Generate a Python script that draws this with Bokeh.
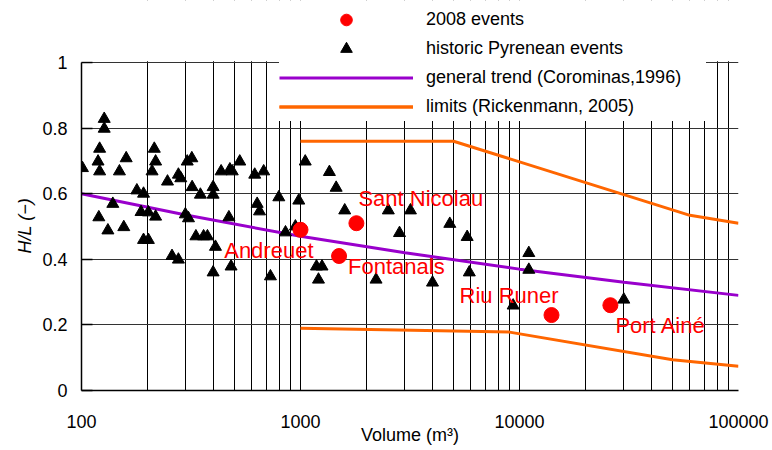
from bokeh.plotting import figure
from bokeh.models import (FixedTicker, Legend, LegendItem, Label, Range1d, BoxAnnotation,
                          Title)
from bokeh.embed import file_html
from bokeh.resources import INLINE

# ---------------- data ----------------
hist_volume = [101, 127, 127, 121, 119, 121, 160, 149, 215, 218, 210, 247, 277, 284,
               304, 319, 320, 179, 192, 139, 187, 202, 218, 298, 308, 120, 132, 156,
               192, 202, 259, 277, 333, 361, 376, 409, 399, 482, 471, 434, 476, 488,
               528, 618, 679, 349, 399, 399, 634, 650, 729, 796, 854, 948, 982, 1051,
               1355, 1455, 1592, 2518, 3177, 4806, 2832, 5768, 5900, 4006, 1183, 1254,
               1208, 2213, 9355, 11030, 11030, 29940]
hist_hl = [0.678, 0.828, 0.798, 0.737, 0.698, 0.668, 0.708, 0.668, 0.737, 0.698, 0.668,
           0.637, 0.658, 0.647, 0.698, 0.708, 0.620, 0.610, 0.600, 0.569, 0.544, 0.543,
           0.530, 0.537, 0.525, 0.528, 0.488, 0.498, 0.459, 0.459, 0.410, 0.399, 0.470,
           0.470, 0.470, 0.438, 0.360, 0.378, 0.528, 0.668, 0.674, 0.668, 0.698, 0.658,
           0.668, 0.597, 0.620, 0.597, 0.569, 0.546, 0.348, 0.589, 0.482, 0.500, 0.579,
           0.698, 0.666, 0.618, 0.549, 0.549, 0.549, 0.508, 0.480, 0.468, 0.360, 0.329,
           0.378, 0.378, 0.338, 0.338, 0.259, 0.419, 0.368, 0.277]

event_names = ["Andreuet", "Fontanals", "Sant Nicolau", "Riu Runer", "Port Ainé"]
event_volume = [1000, 1500, 1800, 14000, 26000]
event_hl = [0.49, 0.41, 0.51, 0.23, 0.26]

trend_volume = [100, 300, 1000, 3000, 10000, 30000, 100000]
trend_hl = [0.60, 0.535, 0.47, 0.42, 0.37, 0.33, 0.29]

upper_volume = [1000, 5000, 60000, 100000]
upper_hl = [0.76, 0.76, 0.534, 0.51]
lower_volume = [1000, 9000, 50000, 100000]
lower_hl = [0.19, 0.178, 0.094, 0.074]

x_ticks = [100, 1000, 10000, 100000]
x_tick_labels = ["100", "1000", "10000", "100000"]
y_ticks = [0, 0.2, 0.4, 0.6, 0.8, 1]
y_tick_labels = ["0", "0.2", "0.4", "0.6", "0.8", "1"]

legend_labels = ["2008 events", "historic Pyrenean events",
                 "general trend (Corominas,1996)", "limits (Rickenmann, 2005)"]

# label placement (screen offsets relative to each event point)
label_offsets = {
    "Andreuet": (13, -21, "right"),
    "Fontanals": (9, -10, "left"),
    "Sant Nicolau": (2, 25, "left"),
    "Riu Runer": (-92, 20, "left"),
    "Port Ainé": (5, -20, "left"),
}

FONT = "Liberation Sans"
Y_MAX = 1.0        # top of the data axis
Y_HEADROOM = 1.189  # frame extends above the axis to host the legend

# ---------------- figure ----------------
p = figure(width=772, height=450, x_axis_type="log",
           x_range=Range1d(100, 100000), y_range=Range1d(0, Y_HEADROOM),
           output_backend="svg", toolbar_location=None,
           min_border_left=81, min_border_right=34, min_border_top=0,
           min_border_bottom=60)
p.outline_line_color = None
p.background_fill_color = "white"

minor = [m * 10 ** k for k in range(2, 5) for m in range(2, 10)]
p.xaxis.ticker = FixedTicker(ticks=x_ticks, minor_ticks=minor)
p.yaxis.ticker = FixedTicker(ticks=y_ticks)
p.xaxis.major_label_overrides = dict(zip(x_ticks, x_tick_labels))
p.yaxis.major_label_overrides = dict(zip(y_ticks, y_tick_labels))
p.yaxis.bounds = (0, Y_MAX)

for ax in (p.xaxis, p.yaxis):
    ax.major_label_text_font = FONT
    ax.major_label_text_font_size = "18px"
    ax.major_label_text_color = "black"
    ax.axis_line_color = "black"
    ax.axis_line_width = 1.5
    ax.minor_tick_in = 0
    ax.minor_tick_out = 0
    ax.major_tick_out = 0
    ax.axis_label_text_font = FONT
    ax.axis_label_text_font_size = "18px"
    ax.axis_label_text_color = "black"
p.xaxis.major_tick_in = 0
p.yaxis.major_tick_in = 11
p.yaxis.major_tick_line_color = "black"
p.yaxis.major_tick_line_width = 1.5
p.yaxis.major_label_standoff = 14
p.xaxis.major_label_standoff = 24

p.xaxis.axis_label = "Volume (m³)"
p.xaxis.axis_label_text_font_style = "normal"
p.xaxis.axis_label_standoff = -6

# y-axis title, placed along the 0..1 part of the axis
p.add_layout(Title(text="H/L (−)", align="left", offset=137, standoff=10,
                   text_font=FONT, text_font_size="18px", text_font_style="italic",
                   text_color="black"), "left")

p.xgrid.grid_line_color = "black"
p.xgrid.grid_line_width = 1
p.xgrid.minor_grid_line_color = "black"
p.xgrid.minor_grid_line_width = 1
p.ygrid.grid_line_color = "#333333"
p.ygrid.grid_line_width = 1

# ---------------- glyphs ----------------
r_trend = p.line(trend_volume, trend_hl, line_color="#9900CC", line_width=3)
r_upper = p.line(upper_volume, upper_hl, line_color="#FF6600", line_width=3)
r_lower = p.line(lower_volume, lower_hl, line_color="#FF6600", line_width=3)
r_hist = p.scatter(hist_volume, hist_hl, marker="triangle", size=12,
                   fill_color="black", line_color="black")
r_events = p.scatter(event_volume, event_hl, marker="circle", size=15,
                     fill_color="#FF0000", line_color="#FF0000")

for name, v, h in zip(event_names, event_volume, event_hl):
    dx, dy, align = label_offsets[name]
    p.add_layout(Label(x=v, y=h, x_offset=dx, y_offset=dy, text=name,
                       text_align=align, text_baseline="middle",
                       text_font=FONT, text_font_size="22px",
                       text_color="#FF0000"))

# blank out the grid above the top of the axis (y > 1)
p.add_layout(BoxAnnotation(bottom=Y_MAX + 0.004, fill_color="white", fill_alpha=1.0,
                           line_alpha=0))

# ---------------- legend ----------------
legend = Legend(items=[
    LegendItem(label=legend_labels[0], renderers=[r_events]),
    LegendItem(label=legend_labels[1], renderers=[r_hist]),
    LegendItem(label=legend_labels[2], renderers=[r_trend]),
    LegendItem(label=legend_labels[3], renderers=[r_upper, r_lower]),
], location=(198, 269), glyph_width=134, glyph_height=29, spacing=0,
    padding=5, margin=0, label_standoff=13, label_width=280, label_text_font=FONT,
    label_text_font_size="18px", label_text_color="black",
    border_line_color=None, background_fill_color="white",
    background_fill_alpha=1.0)
p.add_layout(legend)

open("out.html", "w").write(file_html(p, INLINE))
